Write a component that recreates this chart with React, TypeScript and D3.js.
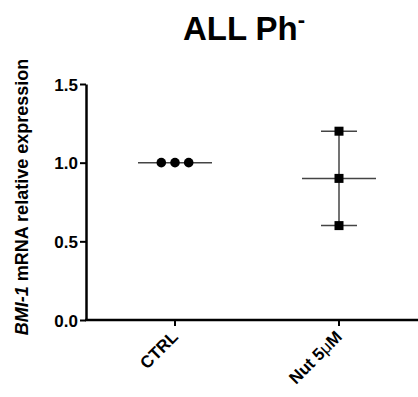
import { useEffect, useRef } from "react";
import * as d3 from "d3";

const categories = ["CTRL", "Nut 5\u03bcM"];
const ctrlValues = [1.0, 1.0, 1.0];
const nutValues = [1.2, 0.9, 0.6];
const yTicks = [0.0, 0.5, 1.0, 1.5];

const W = 418;
const H = 397;

const App = () => {
  const ref = useRef<SVGSVGElement>(null);

  useEffect(() => {
    const svg = d3.select(ref.current);
    svg.selectAll("*").remove();

    const left = 86;
    const top = 84;
    const bottom = 320;
    const fontF = "Arial, 'Liberation Sans', sans-serif";

    const y = d3.scaleLinear().domain([0, 1.5]).range([bottom, top]);
    const x = d3.scalePoint().domain(categories).range([175, 339]);

    const g = svg.append("g");

    // title
    const title = svg
      .append("text")
      .attr("x", 244)
      .attr("y", 40)
      .attr("text-anchor", "middle")
      .attr("font-family", fontF)
      .attr("font-weight", "bold")
      .attr("font-size", 33)
      .text("ALL Ph");
    title
      .append("tspan")
      .attr("dy", -13)
      .attr("font-size", 22)
      .text("-");

    // y axis
    const yAxis = g
      .append("g")
      .attr("transform", `translate(${left},0)`)
      .call(d3.axisLeft(y).tickValues(yTicks).tickFormat(d3.format(".1f")).tickSize(6).tickSizeOuter(0));
    yAxis.select(".domain").attr("stroke-width", 2.5);
    yAxis.selectAll(".tick line").attr("stroke-width", 2);
    yAxis
      .selectAll("text")
      .attr("font-family", fontF)
      .attr("font-weight", "bold")
      .attr("font-size", 17)
      .attr("x", -8)
      .attr("dy", "0.36em");

    // x axis
    g.append("line")
      .attr("x1", left - 1)
      .attr("x2", W)
      .attr("y1", bottom)
      .attr("y2", bottom)
      .attr("stroke", "#000")
      .attr("stroke-width", 2.5);
    categories.forEach((c) => {
      g.append("line")
        .attr("x1", x(c)!)
        .attr("x2", x(c)!)
        .attr("y1", bottom)
        .attr("y2", bottom + 6)
        .attr("stroke", "#000")
        .attr("stroke-width", 2);
    });

    categories.forEach((c) => {
      const t = g
        .append("text")
        .attr("transform", `translate(${x(c)! + 4},${bottom + 18}) rotate(-45)`)
        .attr("text-anchor", "end")
        .attr("font-family", fontF)
        .attr("font-weight", "bold")
        .attr("font-size", 17);
      if (c.includes("\u03bc")) {
        t.append("tspan").text("Nut 5");
        t.append("tspan").attr("font-weight", "normal").text("\u03bc");
        t.append("tspan").text("M");
      } else {
        t.text(c);
      }
    });

    // y label
    const yl = svg
      .append("text")
      .attr("transform", `translate(28,197) rotate(-90)`)
      .attr("text-anchor", "middle")
      .attr("font-family", fontF)
      .attr("font-weight", "bold")
      .attr("font-size", 18);
    yl.append("tspan").attr("font-style", "italic").text("BMI-1");
    yl.append("tspan").text(" mRNA relative expression");

    const meanHalf = 37;
    const capHalf = 18;

    // CTRL group
    const cx = x(categories[0])!;
    const ctrlMean = d3.mean(ctrlValues)!;
    g.append("line")
      .attr("x1", cx - meanHalf)
      .attr("x2", cx + meanHalf)
      .attr("y1", y(ctrlMean))
      .attr("y2", y(ctrlMean))
      .attr("stroke", "#444")
      .attr("stroke-width", 1.5);
    const spread = 13.7;
    g.selectAll(".ctrl")
      .data(ctrlValues)
      .enter()
      .append("circle")
      .attr("cx", (_, i) => cx + (i - 1) * spread)
      .attr("cy", (d) => y(d))
      .attr("r", 4.8)
      .attr("fill", "#000");

    // Nut group
    const nx = x(categories[1])!;
    const nutMean = d3.mean(nutValues)!;
    const nutSd = d3.deviation(nutValues)!;
    g.append("line")
      .attr("x1", nx)
      .attr("x2", nx)
      .attr("y1", y(nutMean + nutSd))
      .attr("y2", y(nutMean - nutSd))
      .attr("stroke", "#444")
      .attr("stroke-width", 1.5);
    [nutMean + nutSd, nutMean - nutSd].forEach((v) => {
      g.append("line")
        .attr("x1", nx - capHalf)
        .attr("x2", nx + capHalf)
        .attr("y1", y(v))
        .attr("y2", y(v))
        .attr("stroke", "#444")
        .attr("stroke-width", 1.5);
    });
    g.append("line")
      .attr("x1", nx - meanHalf)
      .attr("x2", nx + meanHalf)
      .attr("y1", y(nutMean))
      .attr("y2", y(nutMean))
      .attr("stroke", "#444")
      .attr("stroke-width", 1.5);
    g.selectAll(".nut")
      .data(nutValues)
      .enter()
      .append("rect")
      .attr("x", nx - 4.5)
      .attr("y", (d) => y(d) - 4.5)
      .attr("width", 9)
      .attr("height", 9)
      .attr("fill", "#000");
  }, []);

  return (
    <svg
      ref={ref}
      width={W}
      height={H}
      style={{ position: "absolute", left: 0, top: 0, background: "#fff" }}
    ></svg>
  );
};

export default App;
